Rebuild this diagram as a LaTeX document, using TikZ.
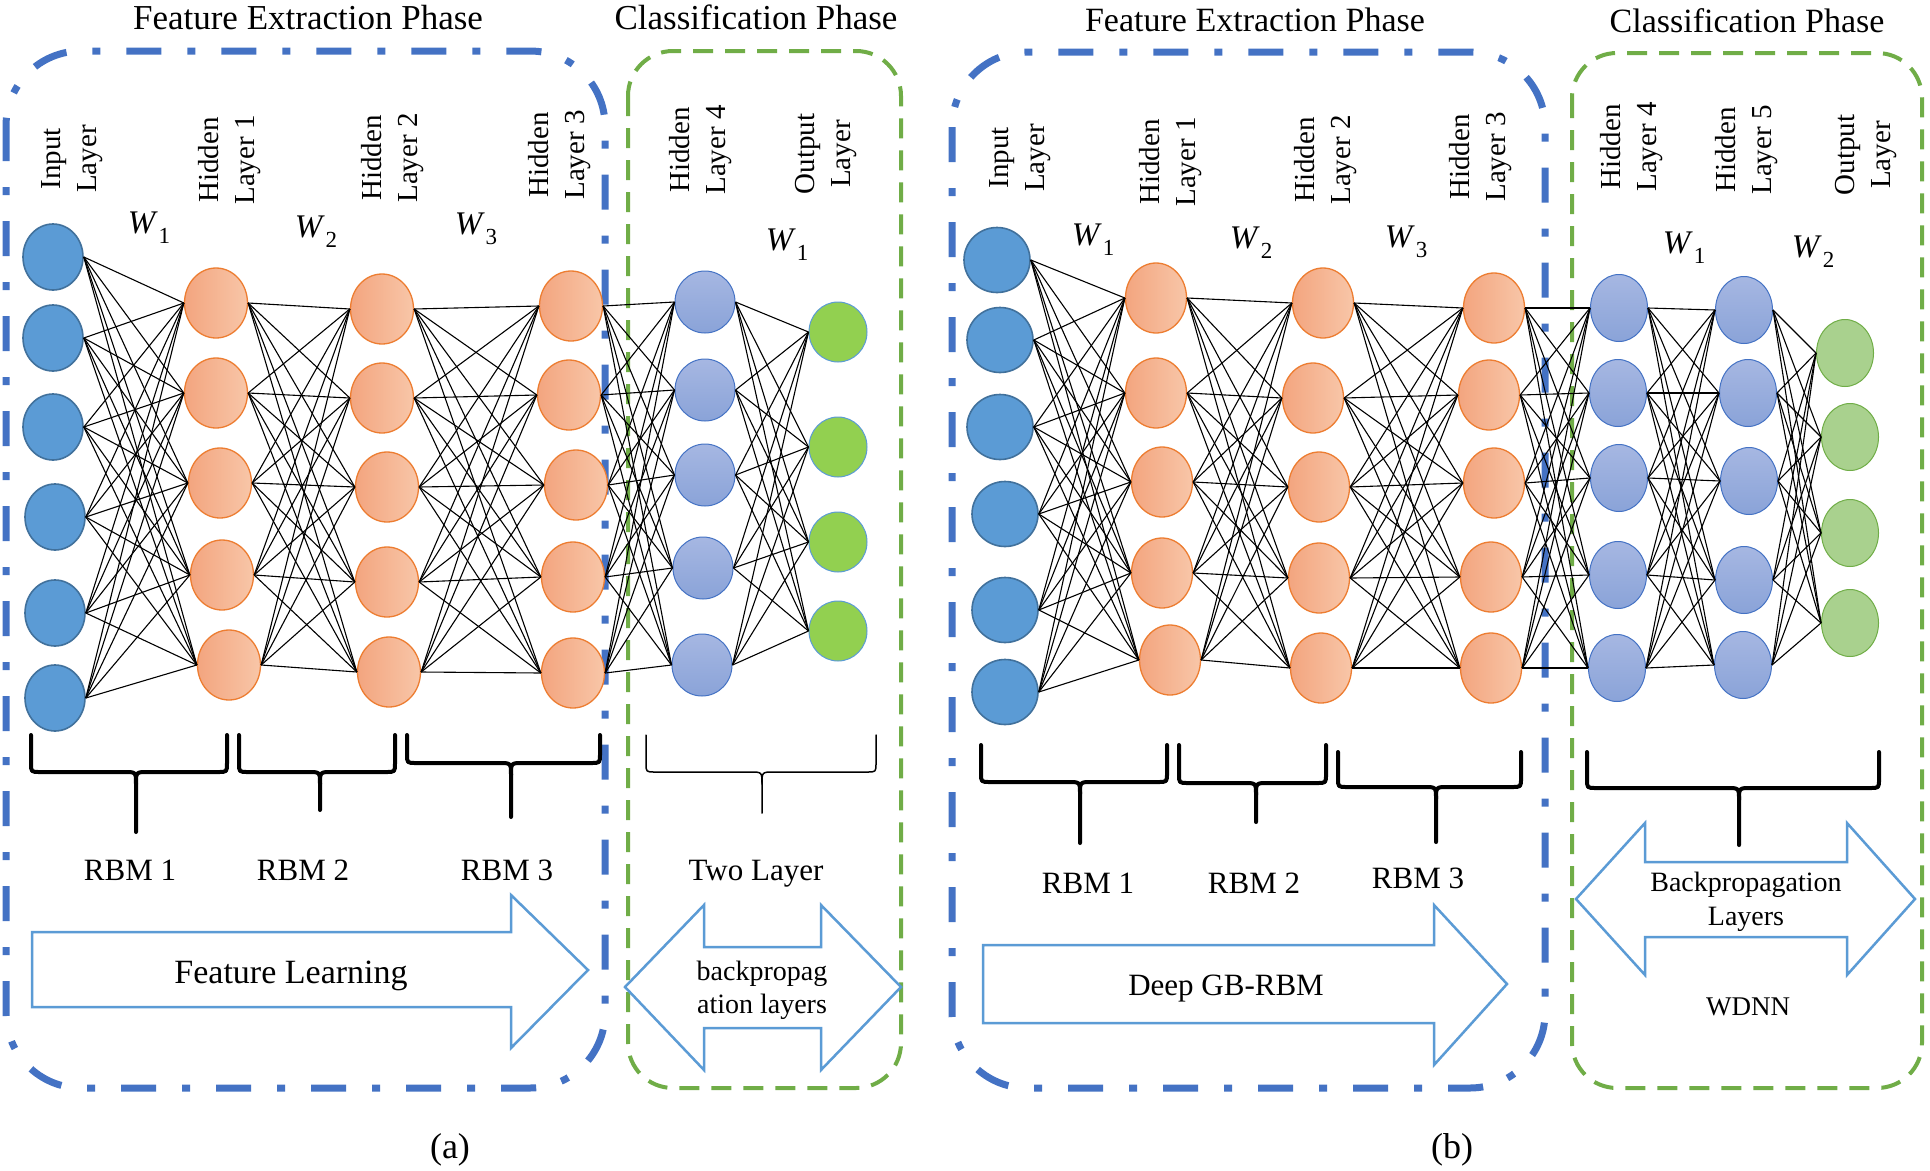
\documentclass[tikz,border=0pt]{standalone}
\usepackage{fontspec}
\setmainfont{Liberation Serif}
\usetikzlibrary{shapes.geometric}
\definecolor{inpfill}{HTML}{5B9BD5}
\definecolor{inpdraw}{HTML}{41719C}
\definecolor{orL}{HTML}{F3A57F}
\definecolor{orR}{HTML}{F8C6A8}
\definecolor{ordraw}{HTML}{ED7D31}
\definecolor{lilT}{HTML}{A6B7E2}
\definecolor{lilB}{HTML}{8AA3D8}
\definecolor{lildraw}{HTML}{4472C4}
\definecolor{grA}{HTML}{92D050}
\definecolor{grAdraw}{HTML}{5B9BD5}
\definecolor{grB}{HTML}{A9D18E}
\definecolor{grBdraw}{HTML}{70AD47}
\definecolor{boxblue}{HTML}{4472C4}
\definecolor{boxgreen}{HTML}{70AD47}
\definecolor{arrblue}{HTML}{5B9BD5}
\newcommand{\mybrc}[7]{%
  \draw[line width=#7,line join=round,line cap=round] (#1,#3) -- (#1,#4-9) .. controls (#1,#4) .. (#1+9,#4) -- (#5-12,#4) .. controls (#5,#4) .. (#5,#4+12) -- (#5,#6);
  \draw[line width=#7,line join=round,line cap=round] (#2,#3) -- (#2,#4-9) .. controls (#2,#4) .. (#2-9,#4) -- (#5+12,#4) .. controls (#5,#4) .. (#5,#4+12);
}
\newcommand{\wsub}[1]{\textit{W}\kern1pt\raisebox{-0.3em}{\fontsize{23}{26}\selectfont #1}}
\begin{document}
\begin{tikzpicture}[x=1pt,y=-1pt,
  nd/.style={ellipse,inner sep=0pt},
  inpA/.style={nd,draw=inpdraw,fill=inpfill,line width=1.6pt,minimum width=60pt,minimum height=66pt},
  inpB/.style={nd,draw=inpdraw,fill=inpfill,line width=1.6pt,minimum width=66pt,minimum height=65pt},
  hidA/.style={nd,draw=ordraw,left color=orL,right color=orR,line width=1.3pt,minimum width=63pt,minimum height=70pt},
  hidB/.style={nd,draw=ordraw,left color=orL,right color=orR,line width=1.3pt,minimum width=61pt,minimum height=70pt},
  lilA/.style={nd,draw=lildraw,top color=lilT,bottom color=lilB,line width=1pt,minimum width=60pt,minimum height=62pt},
  lilBs/.style={nd,draw=lildraw,top color=lilT,bottom color=lilB,line width=1pt,minimum width=57pt,minimum height=67pt},
  outA/.style={nd,draw=grAdraw,fill=grA,line width=1pt,minimum width=58pt,minimum height=60pt},
  outB/.style={nd,draw=grBdraw,fill=grB,line width=1pt,minimum width=57pt,minimum height=67pt},
  edge/.style={line width=1.1pt,black},
  vlab/.style={rotate=90,align=center,inner sep=0pt,font=\fontsize{29}{36}\selectfont},
  wlab/.style={inner sep=0pt,font=\fontsize{33}{36}\selectfont},
  ttl/.style={anchor=base,inner sep=0pt},
  rbm/.style={anchor=base,inner sep=0pt,font=\fontsize{31}{36}\selectfont},
  bluebox/.style={draw=boxblue,line width=7pt,dash pattern=on 35pt off 26pt on 8pt off 26pt,rounded corners=75pt},
  greenbox/.style={draw=boxgreen,line width=4pt,dash pattern=on 20pt off 12pt,rounded corners=45pt},
  blockarr/.style={draw=arrblue,line width=2.5pt,fill=white,line join=miter}
]
\useasboundingbox (0,0) rectangle (1930,1170);
\fill[white] (0,0) rectangle (1930,1170);

% phase boxes
\draw[bluebox] (6,51) rectangle (605,1088);
\draw[greenbox] (628,51) rectangle (901,1088);
\draw[bluebox] (952,52) rectangle (1545,1088);
\draw[greenbox] (1572,53) rectangle (1922,1088);

% titles
\node[ttl,font=\fontsize{35}{40}\selectfont] (tA1) at (308,29) {Feature Extraction Phase};
\node[ttl,font=\fontsize{35}{40}\selectfont] (tA2) at (756,29) {Classification Phase};
\node[ttl,font=\fontsize{34}{40}\selectfont] (tB1) at (1255,31) {Feature Extraction Phase};
\node[ttl,font=\fontsize{34}{40}\selectfont] (tB2) at (1747,32) {Classification Phase};

% ---------- panel (a) nodes ----------
\foreach \n/\x/\y in {1/53/257,2/53/338,3/53/427,4/55/517,5/55/613,6/55/698}
  \node[inpA] (aA\n) at (\x,\y) {};
\foreach \n/\x/\y in {1/216/303,2/216/393,3/220/483,4/222/575,5/229/665}
  \node[hidA] (aB\n) at (\x,\y) {};
\foreach \n/\x/\y in {1/382/309,2/382/398,3/387/487,4/387/582,5/389/672}
  \node[hidA] (aC\n) at (\x,\y) {};
\foreach \n/\x/\y in {1/571/306,2/569/395,3/576/485,4/573/577,5/573/673}
  \node[hidA] (aD\n) at (\x,\y) {};
\foreach \n/\x/\y in {1/705/302,2/705/390,3/705/475,4/703/568,5/702/665}
  \node[lilA] (aE\n) at (\x,\y) {};
\foreach \n/\x/\y in {1/838/332,2/838/447,3/838/542,4/838/631}
  \node[outA] (aF\n) at (\x,\y) {};

% ---------- panel (b) nodes ----------
\foreach \n/\x/\y in {1/997/260,2/1000/340,3/1000/427,4/1005/514,5/1005/610,6/1005/692}
  \node[inpB] (bA\n) at (\x,\y) {};
\foreach \n/\x/\y in {1/1156/298,2/1156/393,3/1162/482,4/1162/573,5/1170/660}
  \node[hidB] (bB\n) at (\x,\y) {};
\foreach \n/\x/\y in {1/1323/303,2/1313/398,3/1319/487,4/1319/578,5/1321/668}
  \node[hidB] (bC\n) at (\x,\y) {};
\foreach \n/\x/\y in {1/1494/308,2/1489/395,3/1494/483,4/1491/577,5/1491/668}
  \node[hidB] (bD\n) at (\x,\y) {};
\foreach \n/\x/\y in {1/1619/308,2/1618/393,3/1619/478,4/1618/575,5/1617/668}
  \node[lilBs] (bE\n) at (\x,\y) {};
\foreach \n/\x/\y in {1/1744/310,2/1748/393,3/1749/481,4/1744/580,5/1743/665}
  \node[lilBs] (bG\n) at (\x,\y) {};
\foreach \n/\x/\y in {1/1845/353,2/1850/437,3/1850/533,4/1850/623}
  \node[outB] (bF\n) at (\x,\y) {};

% ---------- connections ----------
\foreach \i in {1,...,6}{\foreach \j in {1,...,5}{\draw[edge] (aA\i.east) -- (aB\j.west);}}
\foreach \i in {1,...,5}{\foreach \j in {1,...,5}{\draw[edge] (aB\i.east) -- (aC\j.west);}}
\foreach \i in {1,...,5}{\foreach \j in {1,...,5}{\draw[edge] (aC\i.east) -- (aD\j.west);}}
\foreach \i in {1,...,5}{\foreach \j in {1,...,5}{\draw[edge] (aD\i.east) -- (aE\j.west);}}
\foreach \i in {1,...,5}{\foreach \j in {1,...,4}{\draw[edge] (aE\i.east) -- (aF\j.west);}}

\foreach \i in {1,...,6}{\foreach \j in {1,...,5}{\draw[edge] (bA\i.east) -- (bB\j.west);}}
\foreach \i in {1,...,5}{\foreach \j in {1,...,5}{\draw[edge] (bB\i.east) -- (bC\j.west);}}
\foreach \i in {1,...,5}{\foreach \j in {1,...,5}{\draw[edge] (bC\i.east) -- (bD\j.west);}}
\foreach \i in {1,...,5}{\foreach \j in {1,...,5}{\draw[edge] (bD\i.east) -- (bE\j.west);}}
\foreach \i in {1,...,5}{\foreach \j in {1,...,5}{\draw[edge] (bE\i.east) -- (bG\j.west);}}
\foreach \i in {1,...,5}{\foreach \j in {1,...,4}{\draw[edge] (bG\i.east) -- (bF\j.west);}}

% ---------- layer labels ----------
\node[vlab] (laA) at (72,159) {Input\\Layer};
\node[vlab] (laB) at (230,160) {Hidden\\Layer 1};
\node[vlab] (laC) at (393,158) {Hidden\\Layer 2};
\node[vlab] (laD) at (560,155) {Hidden\\Layer 3};
\node[vlab] (laE) at (701,150) {Hidden\\Layer 4};
\node[vlab] (laF) at (826,154) {Output\\Layer};
\node[vlab] (lbA) at (1020,158) {Input\\Layer};
\node[vlab] (lbB) at (1171,162) {Hidden\\Layer 1};
\node[vlab] (lbC) at (1326,160) {Hidden\\Layer 2};
\node[vlab] (lbD) at (1481,157) {Hidden\\Layer 3};
\node[vlab] (lbE) at (1632,147) {Hidden\\Layer 4};
\node[vlab] (lbG) at (1747,150) {Hidden\\Layer 5};
\node[vlab] (lbF) at (1866,155) {Output\\Layer};

% weights
\node[wlab] (waA) at (149,228) {\wsub{1}};
\node[wlab] (waB) at (316,232) {\wsub{2}};
\node[wlab] (waC) at (476,229) {\wsub{3}};
\node[wlab] (waD) at (787,245) {\wsub{1}};
\node[wlab] (wbA) at (1093,240) {\wsub{1}};
\node[wlab] (wbB) at (1251,243) {\wsub{2}};
\node[wlab] (wbC) at (1406,242) {\wsub{3}};
\node[wlab] (wbD) at (1684,248) {\wsub{1}};
\node[wlab] (wbE) at (1813,252) {\wsub{2}};

% ---------- braces ----------
\mybrc{31}{227}{735}{772}{136}{832}{4pt}
\mybrc{239}{395}{735}{772}{320}{810}{4pt}
\mybrc{407}{600}{735}{763}{511}{817}{4pt}
\mybrc{646}{876}{735}{772}{762}{813}{1.5pt}
\mybrc{981}{1167}{745}{782}{1080}{843}{4pt}
\mybrc{1179}{1326}{745}{783}{1256}{822}{4pt}
\mybrc{1338}{1521}{752}{787}{1436}{842}{4pt}
\mybrc{1587}{1879}{752}{788}{1739}{845}{4pt}

\node[rbm] (ra1) at (130,880) {RBM 1};
\node[rbm] (ra2) at (303,880) {RBM 2};
\node[rbm] (ra3) at (507,880) {RBM 3};
\node[rbm] (ra4) at (756,880) {Two Layer};
\node[rbm] (rb1) at (1088,893) {RBM 1};
\node[rbm] (rb2) at (1254,893) {RBM 2};
\node[rbm] (rb3) at (1418,888) {RBM 3};

% ---------- block arrows ----------
\draw[blockarr] (32,932) -- (511,932) -- (511,895) -- (588,970) -- (511,1048) -- (511,1007) -- (32,1007) -- cycle;
\draw[blockarr] (625,987) -- (704,905) -- (704,947) -- (821,947) -- (821,905) -- (901,987) -- (821,1070) -- (821,1028) -- (704,1028) -- (704,1070) -- cycle;
\draw[blockarr] (983,945) -- (1434,945) -- (1434,905) -- (1507,984) -- (1434,1065) -- (1434,1023) -- (983,1023) -- cycle;
\draw[blockarr] (1576,899) -- (1645,823) -- (1645,862) -- (1847,862) -- (1847,823) -- (1915,899) -- (1847,975) -- (1847,937) -- (1645,937) -- (1645,975) -- cycle;

\node[anchor=base,inner sep=0pt,font=\fontsize{34}{40}\selectfont] (fl) at (291,983) {Feature Learning};
\node[align=center,inner sep=0pt,font=\fontsize{28}{33}\selectfont] (bpa) at (762,990) {backpropag\\ation layers};
\node[anchor=base,inner sep=0pt,font=\fontsize{31}{36}\selectfont] (dgb) at (1226,995) {Deep GB-RBM};
\node[align=center,inner sep=0pt,font=\fontsize{28}{34}\selectfont] (bpb) at (1746,902) {Backpropagation\\Layers};
\node[anchor=base,inner sep=0pt,font=\fontsize{27}{32}\selectfont] (wdnn) at (1748,1015) {WDNN};

\node[anchor=base,inner sep=0pt,font=\fontsize{36}{40}\selectfont] (capa) at (450,1158) {(a)};
\node[anchor=base,inner sep=0pt,font=\fontsize{36}{40}\selectfont] (capb) at (1452,1158) {(b)};
\end{tikzpicture}
\end{document}
